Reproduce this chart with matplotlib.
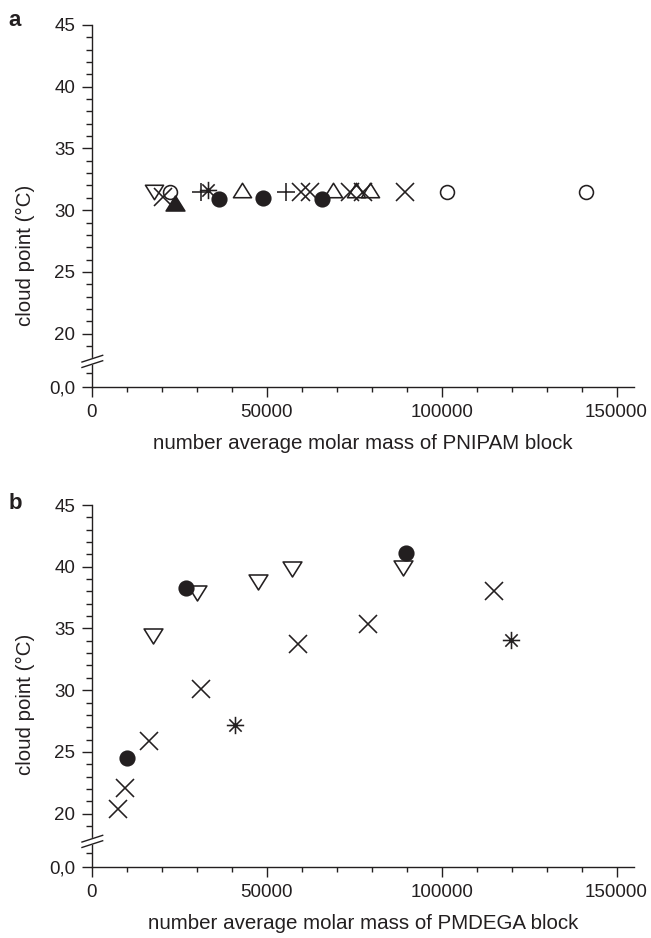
import matplotlib
matplotlib.use('Agg')
import matplotlib.pyplot as plt
import numpy as np
from matplotlib.path import Path

plt.rcParams.update({
    'font.family': ['Liberation Sans', 'DejaVu Sans'],
    'font.size': 13,
    'axes.linewidth': 1.0,
})

INK = '#231f20'

# ---- panel a: PNIPAM block ----
a_down_x = [17700]
a_down_y = [31.5]
a_cross_x = [20300, 59900, 62300, 73700, 77500, 89400]
a_cross_y = [31.1, 31.45, 31.45, 31.45, 31.45, 31.45]
a_open_circ_x = [22300, 101400, 141400]
a_open_circ_y = [31.5, 31.5, 31.5]
a_filled_up_x = [23700]
a_filled_up_y = [30.6]
a_plus_x = [31300, 55400]
a_plus_y = [31.45, 31.45]
a_star_x = [33200]
a_star_y = [31.65]
a_filled_circ_x = [36400, 48950, 65900]
a_filled_circ_y = [30.9, 31.0, 30.9]
a_up_x = [43000, 69000, 75400, 79400]
a_up_y = [31.6, 31.6, 31.6, 31.6]

# ---- panel b: PMDEGA block ----
b_cross_x = [7500, 9400, 16400, 31300, 58900, 79000, 115000]
b_cross_y = [20.4, 22.1, 25.9, 30.1, 33.7, 35.35, 38.05]
b_filled_circ_x = [9900, 27000, 89900]
b_filled_circ_y = [24.5, 38.3, 41.15]
b_down_x = [17500, 29900, 47500, 57300, 89000]
b_down_y = [34.4, 37.85, 38.8, 39.85, 39.9]
b_star_x = [40900, 119900]
b_star_y = [27.15, 34.05]

# axis setup
Y_BOTTOM = 15.7
Y_MAJOR = [Y_BOTTOM, 20, 25, 30, 35, 40, 45]
Y_MAJOR_LABELS = ['0,0', '20', '25', '30', '35', '40', '45']
Y_MINOR = [16.8, 19] + [v for v in range(21, 45) if v % 5 != 0]
X_MAJOR = [0, 50000, 100000, 150000]
X_MINOR = [v for v in range(10000, 155000, 10000) if v % 50000 != 0]

TRI_DOWN = Path([(-1, 0.8), (1, 0.8), (0, -0.8), (-1, 0.8)],
                [Path.MOVETO, Path.LINETO, Path.LINETO, Path.CLOSEPOLY])
TRI_UP = Path([(-1, -0.8), (1, -0.8), (0, 0.8), (-1, -0.8)],
              [Path.MOVETO, Path.LINETO, Path.LINETO, Path.CLOSEPOLY])
STAR = Path([(0, -1), (0, 1), (-0.71, -0.71), (0.71, 0.71),
             (-0.71, 0.71), (0.71, -0.71), (-1, 0), (1, 0)],
            [Path.MOVETO, Path.LINETO] * 4)

MEW = 1.15


def style_axes(ax):
    ax.set_xlim(0, 155000)
    ax.set_ylim(Y_BOTTOM, 45)
    for s in ['top', 'right']:
        ax.spines[s].set_visible(False)
    for s in ['left', 'bottom']:
        ax.spines[s].set_color(INK)
    ax.set_yticks(Y_MAJOR)
    ax.set_yticklabels(Y_MAJOR_LABELS)
    ax.set_yticks(Y_MINOR, minor=True)
    ax.set_xticks(X_MAJOR)
    ax.set_xticklabels([str(v) for v in X_MAJOR])
    ax.set_xticks(X_MINOR, minor=True)
    ax.tick_params(which='major', length=7.2, width=1.0, color=INK,
                   labelcolor=INK, labelsize=13.5, pad=5)
    ax.tick_params(axis='y', which='minor', length=4.3, width=1.0, color=INK)
    ax.tick_params(axis='x', which='minor', length=3.6, width=1.0, color=INK)
    ax.set_ylabel('cloud point (°C)', fontsize=14.8, color=INK)
    # axis break marks on the left spine
    yc = (17.75 - Y_BOTTOM) / (45 - Y_BOTTOM)
    dx0, dx1 = -0.0185, 0.0197
    dy = 0.0093
    off = 0.0075
    ax.fill([dx0, dx1, dx1, dx0],
            [yc - off - dy, yc - off + dy, yc + off + dy, yc + off - dy],
            transform=ax.transAxes, color='white', clip_on=False, zorder=5)
    for d in (-off, off):
        ax.plot([dx0, dx1], [yc + d - dy, yc + d + dy], transform=ax.transAxes,
                color=INK, lw=1.0, clip_on=False, zorder=6)


def pts(ax, x, y, marker, size, filled=False):
    ax.plot(x, y, linestyle='none', marker=marker, markersize=size,
            markeredgecolor=INK, markerfacecolor=INK if filled else 'none',
            markeredgewidth=MEW, zorder=4)


fig = plt.figure(figsize=(6.51, 9.38), dpi=100)
ax_a = fig.add_axes([0.14132, 0.58774, 0.83257, 0.38561])
ax_b = fig.add_axes([0.14132, 0.07601, 0.83257, 0.38561])

# panel a
pts(ax_a, a_down_x, a_down_y, TRI_DOWN, 13)
pts(ax_a, a_cross_x, a_cross_y, 'x', 12.5)
pts(ax_a, a_open_circ_x, a_open_circ_y, 'o', 10)
pts(ax_a, a_filled_up_x, a_filled_up_y, TRI_UP, 13.5, filled=True)
pts(ax_a, a_plus_x, a_plus_y, '+', 13)
pts(ax_a, a_star_x, a_star_y, STAR, 12.5)
pts(ax_a, a_filled_circ_x, a_filled_circ_y, 'o', 10.5, filled=True)
pts(ax_a, a_up_x, a_up_y, TRI_UP, 13)
style_axes(ax_a)
ax_a.set_xlabel('number average molar mass of PNIPAM block', fontsize=14.8, color=INK)
ax_a.xaxis.set_label_coords(0.5, -0.13)
ax_a.yaxis.set_label_coords(-0.1236, 0.362)
ax_a.yaxis.label.set_va('center')

# panel b
pts(ax_b, b_cross_x, b_cross_y, 'x', 13)
pts(ax_b, b_filled_circ_x, b_filled_circ_y, 'o', 10.5, filled=True)
pts(ax_b, b_down_x, b_down_y, TRI_DOWN, 13.5)
pts(ax_b, b_star_x, b_star_y, STAR, 12.5)
style_axes(ax_b)
ax_b.set_xlabel('number average molar mass of PMDEGA block', fontsize=14.8, color=INK)
ax_b.xaxis.set_label_coords(0.5, -0.13)
ax_b.yaxis.set_label_coords(-0.1236, 0.45)
ax_b.yaxis.label.set_va('center')

fig.text(15 / 651, 1 - 20 / 938, 'a', fontsize=16, fontweight='bold',
         color=INK, ha='center', va='center')
fig.text(15 / 651, 1 - 503 / 938, 'b', fontsize=16, fontweight='bold',
         color=INK, ha='center', va='center')

fig.savefig('out.png', dpi=100)
